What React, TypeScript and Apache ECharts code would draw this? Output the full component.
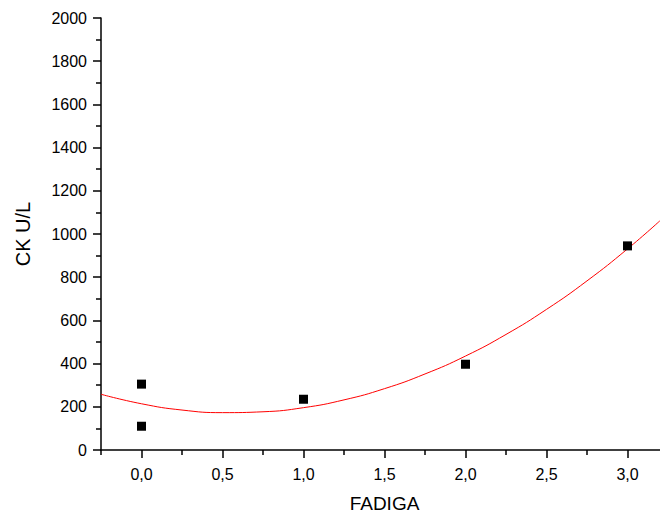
import React, { useEffect, useRef } from "react";
import * as echarts from "echarts";

// Measured points (FADIGA vs CK U/L)
const fadiga: number[] = [0, 0, 1, 2, 3];
const ck: number[] = [305, 110, 235, 397, 945];

// Fitted curve
const curveX: number[] = [-0.25, 0, 0.25, 0.5, 0.75, 1.0, 1.25, 1.5, 1.75, 2.0, 2.25, 2.5, 2.75, 3.0, 3.2];
const curveY: number[] = [258, 214, 185, 173, 177, 196, 232, 284, 352, 435, 535, 651, 783, 931, 1061];

const xTitle = "FADIGA";
const yTitle = "CK U/L";

const FONT = "'Liberation Sans', Arial, sans-serif";

export default function App() {
  const ref = useRef<HTMLDivElement>(null);

  useEffect(() => {
    if (!ref.current) return;
    const chart = echarts.init(ref.current, undefined, { renderer: "svg" });

    const axisColor = "#000";
    const lineStyle = { color: axisColor, width: 1.5 };

    chart.setOption({
      animation: false,
      backgroundColor: "#fff",
      grid: [
        { left: 101, width: 567, top: 18, bottom: 67, containLabel: false, outerBoundsMode: "none" },
        { left: 141.5, width: 526.5, top: 18, bottom: 67, containLabel: false, outerBoundsMode: "none" },
      ],
      xAxis: [
        {
          gridIndex: 0,
          type: "value",
          min: -0.25,
          max: 3.25,
          interval: 0.5,
          name: xTitle,
          nameLocation: "middle",
          nameGap: 44,
          nameTextStyle: { color: "#000", fontSize: 19, fontFamily: FONT },
          axisLine: { show: true, onZero: false, lineStyle },
          axisTick: { show: true, inside: false, length: 5, lineStyle },
          axisLabel: { show: false },
          splitLine: { show: false },
        },
        {
          gridIndex: 1,
          type: "value",
          min: 0,
          max: 3.25,
          interval: 0.5,
          axisLine: { show: false, onZero: false },
          axisTick: { show: true, inside: false, length: 8, lineStyle },
          axisLabel: {
            show: true,
            color: "#000",
            fontSize: 16,
            fontFamily: FONT,
            margin: 16,
            showMaxLabel: false,
            formatter: (v: number) => (v > 3.1 ? "" : v.toFixed(1).replace(".", ",")),
          },
          splitLine: { show: false },
        },
      ],
      yAxis: [
        {
          gridIndex: 0,
          type: "value",
          min: 0,
          max: 2000,
          interval: 200,
          name: yTitle,
          nameLocation: "middle",
          nameGap: 68,
          nameTextStyle: { color: "#000", fontSize: 20, fontFamily: FONT },
          axisLine: { show: true, onZero: false, lineStyle },
          axisTick: { show: true, inside: false, length: 8, lineStyle },
          minorTick: { show: true, splitNumber: 2, length: 5, lineStyle },
          axisLabel: {
            color: "#000",
            fontSize: 16,
            fontFamily: FONT,
            margin: 14,
            formatter: (v: number) => String(v),
          },
          splitLine: { show: false },
          minorSplitLine: { show: false },
        },
        {
          gridIndex: 1,
          type: "value",
          min: 0,
          max: 2000,
          show: false,
        },
      ],
      series: [
        {
          type: "line",
          xAxisIndex: 0,
          yAxisIndex: 0,
          data: curveX.map((x, i) => [x, curveY[i]]),
          smooth: true,
          showSymbol: false,
          symbol: "none",
          lineStyle: { color: "#ff0000", width: 1 },
          z: 2,
        },
        {
          type: "scatter",
          xAxisIndex: 0,
          yAxisIndex: 0,
          data: fadiga.map((x, i) => [x, ck[i]]),
          symbol: "rect",
          symbolSize: 9,
          itemStyle: { color: "#000", opacity: 1 },
          z: 3,
        },
      ],
    });

    return () => chart.dispose();
  }, []);

  return (
    <div
      ref={ref}
      style={{ position: "absolute", left: 0, top: 0, width: 660, height: 517 }}
    />
  );
}
